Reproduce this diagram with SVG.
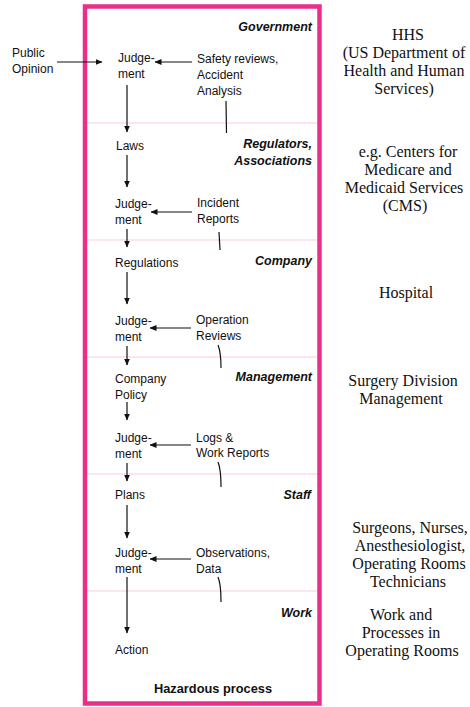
<svg xmlns="http://www.w3.org/2000/svg" width="470" height="707" viewBox="0 0 470 707">
<defs>
<style>
.t{font-family:"Liberation Sans",Arial,sans-serif;font-size:12px;fill:#111}
.l{font-family:"Liberation Sans",Arial,sans-serif;font-size:12.5px;font-weight:bold;font-style:italic;fill:#111;text-anchor:end}
.h{font-family:"Liberation Sans",Arial,sans-serif;font-size:12.8px;font-weight:bold;fill:#111;text-anchor:middle}
.r{font-family:"Liberation Serif","Times New Roman",serif;font-size:16px;fill:#111;text-anchor:middle}
.sep{stroke:#f7cde0;stroke-width:1;fill:none}
.a{stroke:#111;stroke-width:1.2;fill:none;marker-end:url(#ah)}
.p{stroke:#111;stroke-width:1.2;fill:none}
</style>
<marker id="ah" markerWidth="7" markerHeight="6" refX="6.5" refY="3" orient="auto" markerUnits="userSpaceOnUse">
<path d="M0,0 L7,3 L0,6 Z" fill="#111"/>
</marker>
</defs>
<rect width="470" height="707" fill="#fff"/>
<g id="frame">
<line class="sep" x1="87" y1="123" x2="317" y2="123"/>
<line class="sep" x1="87" y1="240" x2="317" y2="240"/>
<line class="sep" x1="87" y1="357" x2="317" y2="357"/>
<line class="sep" x1="87" y1="474" x2="317" y2="474"/>
<line class="sep" x1="87" y1="591" x2="317" y2="591"/>
<rect x="85" y="6.5" width="234.5" height="697" fill="none" stroke="#ea2e8a" stroke-width="4.5"/>
</g>
<g id="layers">
<text class="l" x="312" y="31">Government</text>
<text class="l" x="312" y="148">Regulators,</text>
<text class="l" x="312" y="165">Associations</text>
<text class="l" x="312" y="265">Company</text>
<text class="l" x="312" y="381">Management</text>
<text class="l" x="311" y="499">Staff</text>
<text class="l" x="312" y="617">Work</text>
</g>
<g id="public-opinion"><text class="t" x="12" y="57">Public</text><text class="t" x="12" y="73">Opinion</text></g>
<g id="judgement-1"><text class="t" x="118" y="62">Judge-</text><text class="t" x="118" y="78">ment</text></g>
<g id="safety-reviews"><text class="t" x="197" y="63">Safety reviews,</text><text class="t" x="197" y="79">Accident</text><text class="t" x="197" y="95">Analysis</text></g>
<g id="laws"><text class="t" x="116" y="150">Laws</text></g>
<g id="judgement-2"><text class="t" x="115" y="208">Judge-</text><text class="t" x="115" y="224">ment</text></g>
<g id="incident-reports"><text class="t" x="197" y="207">Incident</text><text class="t" x="197" y="223">Reports</text></g>
<g id="regulations"><text class="t" x="115" y="267">Regulations</text></g>
<g id="judgement-3"><text class="t" x="115" y="325">Judge-</text><text class="t" x="115" y="341">ment</text></g>
<g id="operation-reviews"><text class="t" x="196" y="324">Operation</text><text class="t" x="196" y="340">Reviews</text></g>
<g id="company-policy"><text class="t" x="115" y="383">Company</text><text class="t" x="115" y="399">Policy</text></g>
<g id="judgement-4"><text class="t" x="115" y="442">Judge-</text><text class="t" x="115" y="458">ment</text></g>
<g id="logs"><text class="t" x="196" y="442">Logs &amp;</text><text class="t" x="196" y="457">Work Reports</text></g>
<g id="plans"><text class="t" x="115" y="499">Plans</text></g>
<g id="judgement-5"><text class="t" x="115" y="557">Judge-</text><text class="t" x="115" y="573">ment</text></g>
<g id="observations"><text class="t" x="196" y="557">Observations,</text><text class="t" x="196" y="573">Data</text></g>
<g id="action"><text class="t" x="115" y="654">Action</text></g>
<g id="hazardous-process"><text class="h" x="213" y="693">Hazardous process</text></g>
<g id="hhs"><text class="r" x="408" y="40">HHS</text><text class="r" x="404" y="58">(US Department of</text><text class="r" x="404" y="76">Health and Human</text><text class="r" x="404" y="94">Services)</text></g>
<g id="cms"><text class="r" x="408" y="157">e.g. Centers for</text><text class="r" x="408" y="175">Medicare and</text><text class="r" x="404" y="193">Medicaid Services</text><text class="r" x="405" y="211">(CMS)</text></g>
<g id="hospital"><text class="r" x="406" y="298">Hospital</text></g>
<g id="surgery-division"><text class="r" x="403" y="386">Surgery Division</text><text class="r" x="401" y="404">Management</text></g>
<g id="surgeons"><text class="r" x="410" y="533">Surgeons, Nurses,</text><text class="r" x="410" y="551">Anesthesiologist,</text><text class="r" x="409" y="569">Operating Rooms</text><text class="r" x="408" y="587">Technicians</text></g>
<g id="work-processes"><text class="r" x="401" y="620">Work and</text><text class="r" x="401" y="638">Processes in</text><text class="r" x="402" y="656">Operating Rooms</text></g>
<g id="connectors">
<line class="a" x1="57" y1="62" x2="102" y2="62"/>
<line class="a" x1="192" y1="62" x2="155" y2="62"/>
<line class="a" x1="127" y1="85" x2="127" y2="132"/>
<line class="a" x1="127" y1="155" x2="127" y2="187"/>
<line class="a" x1="192" y1="212" x2="151" y2="212"/>
<line class="a" x1="127" y1="229" x2="127" y2="247"/>
<line class="a" x1="127" y1="272" x2="127" y2="304"/>
<line class="a" x1="191" y1="328" x2="150" y2="328"/>
<line class="a" x1="127" y1="346" x2="127" y2="365"/>
<line class="a" x1="127" y1="402" x2="127" y2="420"/>
<line class="a" x1="191" y1="445" x2="150" y2="445"/>
<line class="a" x1="127" y1="463" x2="127" y2="481"/>
<line class="a" x1="127" y1="505" x2="127" y2="538"/>
<line class="a" x1="191" y1="559" x2="150" y2="559"/>
<line class="a" x1="127" y1="577" x2="127" y2="633"/>
<path class="p" d="M226,101 L226.5,133"/>
<path class="p" d="M219,232 L220,250"/>
<path class="p" d="M218,345 Q221,352 221,368"/>
<path class="p" d="M218,462 Q221,469 221,487"/>
<path class="p" d="M218,577 Q221,584 221,602"/>
</g>
</svg>
